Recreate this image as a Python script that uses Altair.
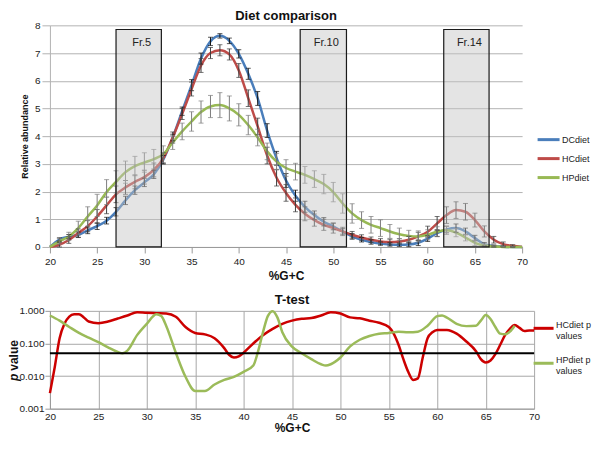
import altair as alt
import pandas as pd

# ---------------- data: top chart (relative abundance) ----------------
gc = list(range(20, 71))
series_names = ["DCdiet", "HCdiet", "HPdiet"]
dc = [0.0, 0.27, 0.37, 0.44, 0.6, 0.75, 0.95, 1.27, 1.68, 2.05,
      2.33, 2.62, 3.15, 3.95, 4.9, 5.84, 6.8, 7.42, 7.62, 7.44,
      6.97, 6.25, 5.36, 4.2, 3.2, 2.4, 1.85, 1.45, 1.15, 0.91,
      0.74, 0.56, 0.38, 0.26, 0.18, 0.12, 0.09, 0.08, 0.09, 0.15,
      0.3, 0.5, 0.63, 0.68, 0.56, 0.32, 0.1, 0.03, 0.01, 0.0, 0.0]
hc = [0.0, 0.08, 0.25, 0.5, 0.75, 1.1, 1.5, 1.9, 2.15, 2.35,
      2.52, 2.78, 3.2, 3.95, 4.8, 5.7, 6.55, 7.0, 7.1, 6.95,
      6.37, 5.37, 4.35, 3.3, 2.5, 1.95, 1.52, 1.2, 0.97, 0.8,
      0.68, 0.56, 0.44, 0.34, 0.26, 0.2, 0.18, 0.2, 0.26, 0.38,
      0.55, 0.85, 1.15, 1.33, 1.27, 0.97, 0.56, 0.26, 0.1, 0.04, 0.0]
hp = [0.0, 0.2, 0.38, 0.68, 1.1, 1.5, 1.98, 2.35, 2.7, 2.92,
      3.05, 3.17, 3.35, 3.77, 4.17, 4.53, 4.87, 5.07, 5.12, 5.0,
      4.77, 4.4, 3.95, 3.45, 3.08, 2.85, 2.72, 2.6, 2.45, 2.27,
      1.98, 1.57, 1.21, 0.97, 0.8, 0.68, 0.56, 0.46, 0.4, 0.38,
      0.44, 0.55, 0.6, 0.52, 0.34, 0.15, 0.05, 0.02, 0.0, 0.0, 0.0]
dc_err = [0.0, 0.06, 0.08, 0.1, 0.12, 0.12, 0.12, 0.15, 0.15, 0.15,
          0.15, 0.15, 0.15, 0.12, 0.15, 0.2, 0.2, 0.15, 0.08, 0.1,
          0.15, 0.2, 0.25, 0.25, 0.25, 0.25, 0.2, 0.2, 0.15, 0.15,
          0.12, 0.1, 0.1, 0.08, 0.08, 0.06, 0.06, 0.06, 0.08, 0.1,
          0.1, 0.12, 0.12, 0.15, 0.12, 0.1, 0.06, 0.04, 0.02, 0.02, 0.0]
hc_err = [0.0, 0.08, 0.12, 0.15, 0.2, 0.25, 0.3, 0.3, 0.25, 0.25,
          0.25, 0.25, 0.2, 0.2, 0.2, 0.25, 0.25, 0.2, 0.2, 0.2,
          0.25, 0.3, 0.3, 0.3, 0.3, 0.3, 0.25, 0.25, 0.22, 0.2,
          0.18, 0.15, 0.12, 0.1, 0.1, 0.1, 0.1, 0.1, 0.12, 0.15,
          0.2, 0.25, 0.3, 0.3, 0.3, 0.25, 0.2, 0.12, 0.08, 0.04, 0.0]
hp_err = [0.0, 0.1, 0.15, 0.25, 0.35, 0.4, 0.45, 0.4, 0.4, 0.35,
          0.35, 0.35, 0.3, 0.25, 0.3, 0.35, 0.4, 0.4, 0.45, 0.45,
          0.4, 0.35, 0.3, 0.3, 0.3, 0.3, 0.3, 0.3, 0.3, 0.35,
          0.35, 0.35, 0.35, 0.3, 0.3, 0.3, 0.25, 0.22, 0.2, 0.2,
          0.18, 0.18, 0.15, 0.15, 0.12, 0.1, 0.06, 0.04, 0.02, 0.01, 0.0]

frac_names = ["Fr.5", "Fr.10", "Fr.14"]
frac_start = [27.0, 46.5, 61.7]
frac_end = [31.8, 51.4, 66.5]
frac_top = [7.85, 7.85, 7.85]

top_title = "Diet comparison"
top_y_title = "Relative abundance"
x_title = "%G+C"

# ---------------- data: bottom chart (T-test p values) ----------------
p_names = ["HCdiet p values", "HPdiet p values"]
hc_p_x = [20, 20.5, 21, 21.5, 22, 22.5, 23, 23.5, 24, 25, 26, 27, 28, 29, 30, 31, 32, 33,
          34, 35, 36, 37, 38, 38.5, 39, 39.5, 40, 41, 42, 43, 44, 45, 46, 47, 48, 49, 50,
          51, 52, 53, 54, 55, 55.5, 56, 56.5, 57, 57.5, 58, 58.5, 59, 59.5, 60, 61, 62, 63,
          64, 64.5, 65, 65.5, 66, 66.5, 67, 67.5, 68, 68.5, 69, 69.5, 70]
hc_p = [0.003, 0.019, 0.145, 0.40, 0.66, 0.78, 0.79, 0.63, 0.47, 0.42, 0.47, 0.58, 0.72,
        0.91, 0.87, 0.85, 0.83, 0.66, 0.32, 0.21, 0.19, 0.145, 0.072, 0.045, 0.037, 0.04,
        0.052, 0.10, 0.18, 0.28, 0.40, 0.50, 0.57, 0.60, 0.72, 0.91, 0.83, 0.63, 0.59, 0.50,
        0.43, 0.32, 0.20, 0.091, 0.033, 0.0135, 0.0076, 0.0085, 0.037, 0.145, 0.22, 0.26,
        0.26, 0.20, 0.115, 0.058, 0.033, 0.026, 0.030, 0.047, 0.091, 0.18, 0.28, 0.37, 0.30,
        0.24, 0.25, 0.25]
hp_p_x = [20, 21, 22, 23, 24, 25, 26, 27, 27.5, 28, 29, 30, 31, 31.5, 32, 33, 34, 35, 36,
          37, 38, 39, 40, 41, 41.5, 42, 42.5, 43, 43.5, 44, 45, 46, 47, 48, 48.5, 49, 50, 51,
          52, 53, 54, 55, 56, 57, 58, 59, 60, 60.5, 61, 62, 63, 64, 64.5, 65, 65.5, 66, 66.5,
          67, 67.5, 68]
hp_p = [0.72, 0.50, 0.32, 0.21, 0.15, 0.11, 0.076, 0.055, 0.05, 0.06, 0.18, 0.40, 0.79,
        0.69, 0.35, 0.052, 0.0095, 0.0035, 0.0035, 0.0055, 0.0076, 0.0095, 0.0135, 0.021,
        0.058, 0.22, 0.69, 0.98, 0.62, 0.22, 0.08, 0.05, 0.033, 0.023, 0.021, 0.023, 0.037,
        0.081, 0.13, 0.17, 0.20, 0.21, 0.23, 0.22, 0.23, 0.35, 0.69, 0.72, 0.62, 0.40, 0.34,
        0.35, 0.50, 0.74, 0.56, 0.32, 0.20, 0.19, 0.23, 0.35]
p_threshold = [0.05]
bottom_title = "T-test"

# ---------------- styling ----------------
FONT = "Liberation Sans"
series_colors = ["#4a7ebb", "#be4b48", "#98b954"]
err_colors = ["#111111", "#3d3d3d", "#7d7d7d"]
p_colors = ["#cc0000", "#9bbb59"]
GRID = "#b3b3b3"
W1, H1 = 473, 222
W2, H2 = 485, 98

# ---------------- tables ----------------
rows = []
for name, vals, errs in zip(series_names, [dc, hc, hp], [dc_err, hc_err, hp_err]):
    for g, v, e in zip(gc, vals, errs):
        rows.append({"gc": g, "series": name, "value": v, "err": e,
                     "lo": max(0.0, v - e), "hi": v + e})
top_df = pd.DataFrame(rows)
frac_df = pd.DataFrame({"name": frac_names, "start": frac_start, "end": frac_end,
                        "top": frac_top, "bottom": [0.0] * len(frac_names)})
p_rows = []
for name, xs, ps in zip(p_names, [hc_p_x, hp_p_x], [hc_p, hp_p]):
    for g, p in zip(xs, ps):
        p_rows.append({"gc": g, "test": name, "p": p})
p_df = pd.DataFrame(p_rows)


def X1(field):
    return alt.X(f"{field}:Q", scale=alt.Scale(domain=[20, 70], nice=False),
                 axis=alt.Axis(values=list(range(20, 71, 5)), grid=False, tickSize=6,
                               tickColor="#9a9a9a", domainColor="#9a9a9a", labelFontSize=10,
                               labelColor="#222", labelPadding=4, labelFlush=False,
                               title=x_title, titleFontSize=12, titleFontWeight="bold",
                               titleColor="#111", titlePadding=4))


def Y1(field):
    return alt.Y(f"{field}:Q", scale=alt.Scale(domain=[0, 8], nice=False),
                 axis=alt.Axis(values=list(range(0, 9)), grid=True, gridColor=GRID,
                               tickSize=8, tickColor=GRID, domainColor=GRID,
                               labelFontSize=10, labelColor="#222", labelPadding=2,
                               labelFlush=False, title=top_y_title, titleFontSize=9,
                               titleFontWeight="bold", titleColor="#111", titlePadding=5))


lines = alt.Chart(top_df).mark_line(interpolate="monotone", strokeWidth=2.5).encode(
    x=X1("gc"), y=Y1("value"),
    color=alt.Color("series:N", scale=alt.Scale(domain=series_names, range=series_colors),
                    legend=alt.Legend(title=None, orient="none", legendX=487, legendY=102,
                                      symbolType="stroke", symbolSize=484,
                                      symbolStrokeWidth=3, labelFontSize=9,
                                      labelColor="#222", labelOffset=1, rowPadding=0,
                                      padding=0)))

layers = [lines]
for name, col in zip(series_names, err_colors):
    base = alt.Chart(top_df).transform_filter(
        f"datum.series == '{name}' && datum.err > 0")
    layers.append(base.mark_rule(color=col, strokeWidth=1).encode(
        x=X1("gc"), y=Y1("lo"), y2="hi"))
    layers.append(base.mark_tick(orient="horizontal", color=col, size=5, thickness=1).encode(
        x=X1("gc"), y=Y1("lo")))
    layers.append(base.mark_tick(orient="horizontal", color=col, size=5, thickness=1).encode(
        x=X1("gc"), y=Y1("hi")))

layers.append(alt.Chart(frac_df).mark_rect(fill="#c4c4c4", fillOpacity=0.45,
                                           stroke="#1a1a1a", strokeWidth=1.2).encode(
    x=X1("start"), x2="end", y=Y1("bottom"), y2="top"))
layers.append(alt.Chart(frac_df).transform_calculate(
    mid="(datum.start + datum.end) / 2").mark_text(
    fontSize=11, dx=3, dy=14, color="#222").encode(x=X1("mid"), y=Y1("top"), text="name:N"))

top = alt.layer(*layers).properties(
    width=W1, height=H1,
    title=alt.TitleParams(top_title, fontSize=13, fontWeight="bold", offset=-3,
                          frame="group", anchor="middle", color="#111"))


# ---------------- bottom chart ----------------
def X2(field):
    return alt.X(f"{field}:Q", scale=alt.Scale(domain=[20, 70], nice=False),
                 axis=alt.Axis(values=list(range(20, 71, 5)), grid=True, gridColor="#a8a8a8",
                               ticks=False, domainColor="#9a9a9a", labelFontSize=10,
                               labelColor="#222", labelPadding=3, labelFlush=False,
                               title=x_title, titleFontSize=12, titleFontWeight="bold",
                               titleColor="#111", titlePadding=1))


def Y2(field):
    return alt.Y(f"{field}:Q", scale=alt.Scale(type="log", domain=[0.001, 1], nice=False),
                 axis=alt.Axis(values=[0.001, 0.01, 0.1, 1], format=".3f", grid=True,
                               gridColor="#a8a8a8", tickSize=5, tickColor="#9a9a9a",
                               domainColor="#9a9a9a", labelFontSize=10, labelColor="#222",
                               labelPadding=1, labelFlush=False, title=None))


p_lines = alt.Chart(p_df).mark_line(interpolate="monotone", strokeWidth=2.5).encode(
    x=X2("gc"), y=Y2("p"),
    color=alt.Color("test:N", scale=alt.Scale(domain=p_names, range=p_colors),
                    legend=alt.Legend(title=None, orient="none", legendX=483, legendY=6,
                                      symbolType="stroke", symbolSize=400,
                                      symbolStrokeWidth=3, labelFontSize=9,
                                      labelColor="#222", labelOffset=1, rowPadding=10,
                                      padding=0, labelBaseline="alphabetic",
                                      labelExpr="[replace(datum.label, ' values', ''), 'values']")))
thr = alt.Chart(pd.DataFrame({"p": p_threshold})).mark_rule(color="black", strokeWidth=2).encode(
    y=Y2("p"))
plab1 = alt.Chart(pd.DataFrame({"t": ["p"]})).mark_text(
    fontSize=12, fontWeight="bold", fontStyle="italic", angle=270, align="right",
    baseline="middle", dx=-3, color="#111").encode(x=alt.value(-36), y=alt.value(60), text="t:N")
plab2 = alt.Chart(pd.DataFrame({"t": ["value"]})).mark_text(
    fontSize=12, fontWeight="bold", angle=270, align="left",
    baseline="middle", color="#111").encode(x=alt.value(-36), y=alt.value(60), text="t:N")

bottom = alt.layer(p_lines, thr, plab1, plab2).properties(
    width=W2, height=H2,
    title=alt.TitleParams(bottom_title, fontSize=13, fontWeight="bold", offset=-1,
                          frame="group", anchor="middle", color="#111"))

chart = alt.vconcat(top, bottom, spacing=12).resolve_scale(color="independent").properties(
    padding={"top": 2, "left": 0, "right": 0, "bottom": 0}
).configure(font=FONT).configure_view(stroke=None)

chart.save("out.html", embed_options={"renderer": "svg", "actions": False})
